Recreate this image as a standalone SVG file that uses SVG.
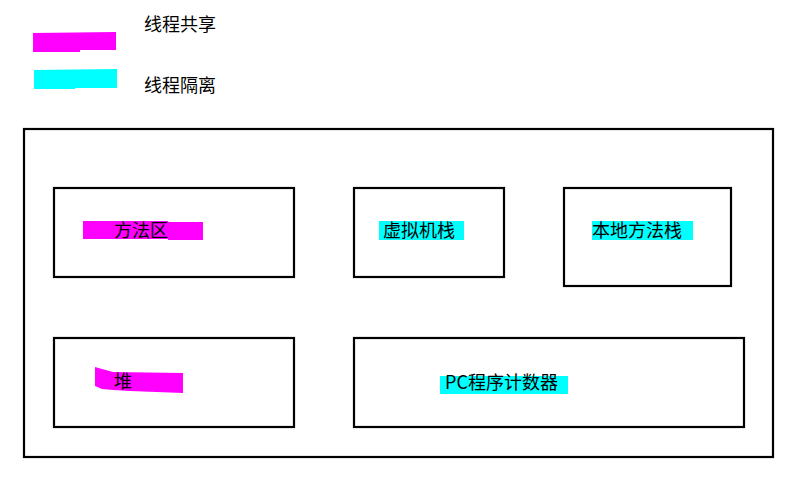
<svg xmlns="http://www.w3.org/2000/svg" width="792" height="480" viewBox="0 0 792 480">
<style>
.box{fill:none;stroke:#000;stroke-width:2.2}
.shared{fill:#ff00ff}
.isolated{fill:#00ffff}
.lbl{font-family:"Noto Sans CJK SC","Liberation Sans",sans-serif;font-size:18px;fill:#000}
</style>
<rect width="792" height="480" fill="#fff"/>
<g id="legend">
<path class="shared" d="M33,33 L116,32 L116,50 L80,50 L80,52 L33,52 Z"/>
<path class="isolated" d="M34,70 L117,69 L117,88 L75,88 L75,89 L34,89 Z"/>
<text class="lbl" x="144" y="31">线程共享</text>
<text class="lbl" x="144" y="92">线程隔离</text>
</g>
<g id="jvm">
<rect class="box" x="24" y="129" width="749" height="328"/>
</g>
<g id="method-area">
<rect class="box" x="54" y="188" width="240" height="89"/>
<path class="shared" d="M83,221 L168,221 L168,222 L203,222 L203,240 L168,240 L168,239 L83,239 Z"/>
<text class="lbl" x="114" y="237">方法区</text>
</g>
<g id="vm-stack">
<rect class="box" x="354" y="188" width="150" height="89"/>
<rect class="isolated" x="379" y="221" width="85" height="19"/>
<text class="lbl" x="383" y="237">虚拟机栈</text>
</g>
<g id="native-stack">
<rect class="box" x="564" y="188" width="167" height="98"/>
<rect class="isolated" x="592" y="221" width="101" height="19"/>
<text class="lbl" x="592" y="237">本地方法栈</text>
</g>
<g id="heap">
<rect class="box" x="54" y="338" width="240" height="89"/>
<path class="shared" d="M95,367 L102,369 L113,372 L183,373 L183,393 L130,391 L113,390 L102,389 L95,386 Z"/>
<text class="lbl" x="114" y="388">堆</text>
</g>
<g id="pc-register">
<rect class="box" x="354" y="338" width="390" height="89"/>
<rect class="isolated" x="440" y="376" width="128" height="18"/>
<text class="lbl" x="445" y="389">PC程序计数器</text>
</g>
<g id="connectors"></g>
</svg>
